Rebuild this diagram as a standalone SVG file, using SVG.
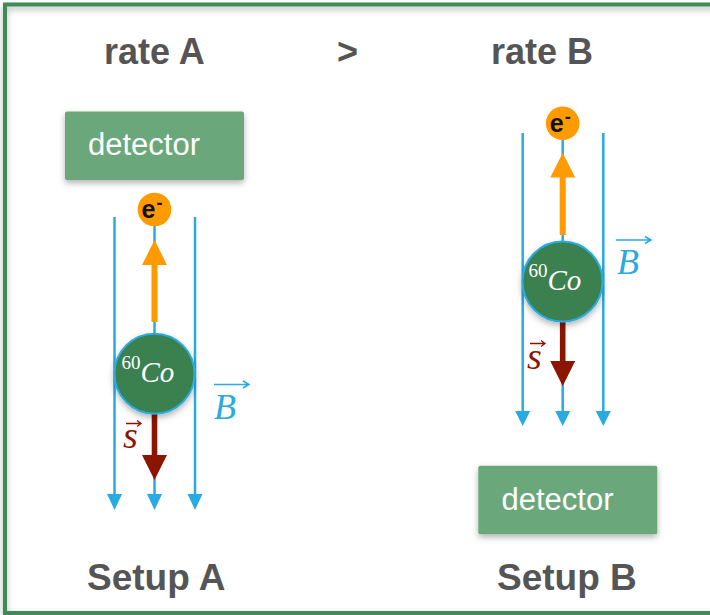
<svg xmlns="http://www.w3.org/2000/svg" width="710" height="615" viewBox="0 0 710 615">
<defs>
<style>
.title{font-family:"Liberation Sans",Arial,sans-serif;font-weight:bold;font-size:36px;fill:#555555}
.setup{font-size:37px}
.det{fill:#6aa87c}
.dettxt{font-family:"Liberation Sans",Arial,sans-serif;font-size:31px;fill:#ffffff}
.field{stroke:#29abe2;stroke-width:2.5;fill:none}
.co{fill:#3a8050;stroke:#29abe2;stroke-width:2}
.cotxt{font-family:"Liberation Serif","Times New Roman",serif;fill:#ffffff}
.eball{fill:#ff9a00}
.etxt{font-family:"Liberation Sans",Arial,sans-serif;font-weight:bold;fill:#111111}
.orange{fill:#ff9a00}
.brown{fill:#8b1500}
.vec{font-family:"Liberation Serif","Times New Roman",serif;font-style:italic}
</style>
<filter id="sh" x="-20%" y="-20%" width="140%" height="150%">
<feDropShadow dx="0" dy="3" stdDeviation="3" flood-color="#000" flood-opacity="0.3"/>
</filter>
</defs>
<rect width="710" height="615" fill="#ffffff"/>
<g id="frame">
<rect x="5" y="4.5" width="720" height="608.5" fill="none" stroke="#3d8b57" stroke-width="4" filter="url(#sh)"/>
</g>
<g id="titles">
<text class="title" x="104" y="64">rate A</text>
<text class="title" x="337" y="64">&gt;</text>
<text class="title" x="491" y="64">rate B</text>
<text class="title setup" x="87" y="590">Setup A</text>
<text class="title setup" x="497" y="590">Setup B</text>
</g>
<g id="connectors">
<line class="field" x1="114.5" y1="217" x2="114.5" y2="497"/>
<line class="field" x1="154.5" y1="217" x2="154.5" y2="497"/>
<line class="field" x1="195" y1="217" x2="195" y2="497"/>
<path d="M107,494 L122,494 L114.5,510 Z" fill="#29abe2"/>
<path d="M147,494 L162,494 L154.5,510 Z" fill="#29abe2"/>
<path d="M187.5,494 L202.5,494 L195,510 Z" fill="#29abe2"/>
<line class="field" x1="522.7" y1="133" x2="522.7" y2="413"/>
<line class="field" x1="562.7" y1="133" x2="562.7" y2="413"/>
<line class="field" x1="603.3" y1="133" x2="603.3" y2="413"/>
<path d="M515.2,411 L530.2,411 L522.7,426 Z" fill="#29abe2"/>
<path d="M555.2,411 L570.2,411 L562.7,426 Z" fill="#29abe2"/>
<path d="M595.8,411 L610.8,411 L603.3,426 Z" fill="#29abe2"/>
<path class="orange" d="M151.5,322 L151.5,265 L142,265 L154.5,240 L167,265 L157.5,265 L157.5,322 Z"/>
<path class="brown" d="M151.7,413 L151.7,455 L142,455 L154.5,480 L167,455 L157.3,455 L157.3,413 Z"/>
<path class="orange" d="M559.7,235 L559.7,177.5 L550.2,177.5 L562.7,153 L575.2,177.5 L565.7,177.5 L565.7,235 Z"/>
<path class="brown" d="M559.9,320 L559.9,361 L550.2,361 L562.7,386 L575.2,361 L565.5,361 L565.5,320 Z"/>
</g>
<g id="detectorA">
<rect class="det" x="65" y="111.5" width="179" height="68.5" rx="2" filter="url(#sh)"/>
<text class="dettxt" x="88" y="155">detector</text>
</g>
<g id="electronA">
<circle class="eball" cx="154.5" cy="209.5" r="16.8"/>
<text class="etxt" x="141.5" y="218" font-size="25">e</text>
<text class="etxt" x="156.5" y="209" font-size="18">-</text>
</g>
<g id="cobaltA">
<circle class="co" cx="154.5" cy="373.7" r="40" filter="url(#sh)"/>
<text class="cotxt" x="121.5" y="381.7"><tspan font-size="19" dy="-13">60</tspan><tspan font-size="29" font-style="italic" dy="13">Co</tspan></text>
</g>
<g id="spinA">
<text class="vec" x="123" y="448" font-size="38" fill="#8b1500">s</text>
<path d="M126,423.5 L141,423.5 M137,420.5 L141,423.5 L137,426.5" stroke="#8b1500" stroke-width="1.3" fill="none"/>
</g>
<g id="fieldA">
<text class="vec" x="214" y="419" font-size="36" fill="#29abe2">B</text>
<path d="M214,384.5 L249,384.5 M243,381 L249,384.5 L243,388" stroke="#29abe2" stroke-width="1.5" fill="none"/>
</g>
<g id="electronB">
<circle class="eball" cx="562.7" cy="123.3" r="16.8"/>
<text class="etxt" x="549.7" y="131.8" font-size="25">e</text>
<text class="etxt" x="564.7" y="122.8" font-size="18">-</text>
</g>
<g id="cobaltB">
<circle class="co" cx="562.5" cy="281.5" r="40" filter="url(#sh)"/>
<text class="cotxt" x="528.5" y="289.5"><tspan font-size="19" dy="-13">60</tspan><tspan font-size="29" font-style="italic" dy="13">Co</tspan></text>
</g>
<g id="spinB">
<text class="vec" x="527" y="369" font-size="38" fill="#8b1500">s</text>
<path d="M530,343.5 L545,343.5 M541,340.5 L545,343.5 L541,346.5" stroke="#8b1500" stroke-width="1.3" fill="none"/>
</g>
<g id="fieldB">
<text class="vec" x="617" y="274" font-size="36" fill="#29abe2">B</text>
<path d="M616,240 L651,240 M645,236.5 L651,240 L645,243.5" stroke="#29abe2" stroke-width="1.5" fill="none"/>
</g>
<g id="detectorB">
<rect class="det" x="478.3" y="465.7" width="179" height="68.6" rx="2" filter="url(#sh)"/>
<text class="dettxt" x="501.5" y="510">detector</text>
</g>
</svg>
